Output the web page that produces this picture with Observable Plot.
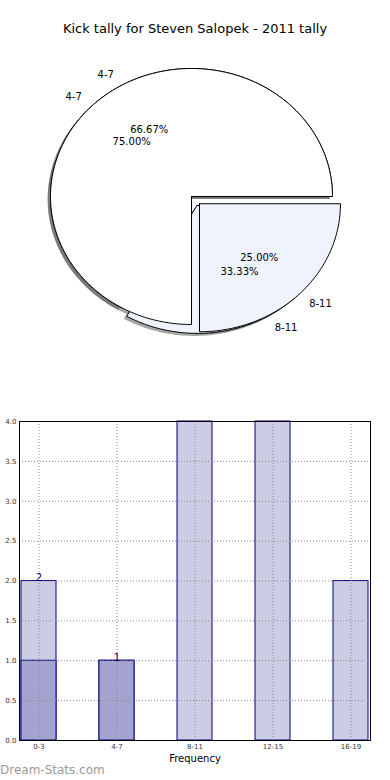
<!DOCTYPE html>
<html>
<head>
<meta charset="utf-8">
<script src="https://cdn.jsdelivr.net/npm/d3@7"></script>
<script src="https://cdn.jsdelivr.net/npm/@observablehq/plot@0.6"></script>
<style>
  html, body { margin: 0; padding: 0; background: white; }
  body { width: 390px; height: 780px; position: relative; overflow: hidden; font-family: "DejaVu Sans", sans-serif; }
  .abs { position: absolute; }
  #title { top: 21px; left: 0; width: 390px; text-align: center; font-size: 13px; color: #000; }
  #pie { top: 0; left: 0; }
  #bars { top: 410px; left: 0; }
  #wm { top: 763px; left: 0; font-size: 12px; color: #9a9a9a; }
</style>
</head>
<body>
<div id="title" class="abs">Kick tally for Steven Salopek - 2011 tally</div>
<div id="pie" class="abs"></div>
<div id="bars" class="abs"></div>
<div id="wm" class="abs">Dream-Stats.com</div>
<script>
// ---------- data ----------
const pieLabels = ["4-7", "8-11"];
const pieA = [3, 1];          // 75.00% / 25.00%
const pieB = [2, 1];          // 66.67% / 33.33%
const pieColors = ["#ffffff", "#eef3fd"];
const pieExplode = [0, 0.08];

const categories = ["0-3", "4-7", "8-11", "12-15", "16-19"];
const totalCounts = [2, 1, 4, 4, 2];
const innerCounts = [1, 1, 0, 0, 0];
const barLabels = ["2", "1", "", "", ""];
const barLabelValues = [2, 1, 0, 0, 0];
const yTicks = [0, 0.5, 1, 1.5, 2, 2.5, 3, 3.5, 4];

// ---------- pie geometry (matplotlib-like) ----------
function wedges(values, pieId) {
  const total = d3.sum(values);
  let cum = 0;
  return values.map((v, i) => {
    const t1 = cum / total * 360;
    cum += v;
    const t2 = cum / total * 360;
    const mid = (t1 + t2) / 2 * Math.PI / 180;
    const cx = pieExplode[i] * Math.cos(mid);
    const cy = pieExplode[i] * Math.sin(mid);
    const pts = [{x: cx, y: cy}];
    const n = Math.max(2, Math.ceil(t2 - t1));
    for (let k = 0; k <= n; k++) {
      const a = (t1 + (t2 - t1) * k / n) * Math.PI / 180;
      pts.push({x: cx + Math.cos(a), y: cy + Math.sin(a)});
    }
    pts.push({x: cx, y: cy});
    return {
      id: pieId + i, pts, fill: pieColors[i],
      label: pieLabels[i],
      lx: cx + 1.1 * Math.cos(mid), ly: cy + 1.1 * Math.sin(mid),
      px: cx + 0.6 * Math.cos(mid), py: cy + 0.6 * Math.sin(mid),
      pct: (v / total * 100).toFixed(2) + "%"
    };
  });
}
const wA = wedges(pieA, "A");
const wB = wedges(pieB, "B");
const allW = [...wB, ...wA];   // B below, A on top

const pieMarks = [];
// shadows
for (const w of allW) {
  pieMarks.push(Plot.line(w.pts, {
    x: d => d.x - 0.02, y: d => d.y - 0.02,
    fill: "#4d4d4d", fillOpacity: 0.5, stroke: "none"
  }));
}
// wedges
for (const w of allW) {
  pieMarks.push(Plot.line(w.pts, {
    x: "x", y: "y", fill: w.fill, stroke: "black", strokeWidth: 1, strokeLinejoin: "miter"
  }));
}
pieMarks.push(Plot.text(allW.filter(d => d.lx > 0), {
  x: "lx", y: "ly", text: "label", textAnchor: "start", fontSize: 10, fill: "black"
}));
pieMarks.push(Plot.text(allW.filter(d => d.lx <= 0), {
  x: "lx", y: "ly", text: "label", textAnchor: "end", fontSize: 10, fill: "black"
}));
pieMarks.push(Plot.text(allW, {
  x: "px", y: "py", text: "pct", textAnchor: "middle", fontSize: 10, fill: "black"
}));

const pie = Plot.plot({
  width: 390, height: 380,
  margin: 0,
  x: {domain: [-1.3546, 1.4113], axis: null},
  y: {domain: [-1.4375, 1.53125], axis: null},
  style: {fontFamily: "DejaVu Sans", background: "transparent", overflow: "visible"},
  marks: pieMarks
});
document.getElementById("pie").appendChild(pie);

// ---------- bar chart ----------
const barRows = categories.map((c, i) => ({
  cat: c, total: totalCounts[i], inner: innerCounts[i],
  label: barLabels[i], lv: barLabelValues[i]
}));

const bars = Plot.plot({
  width: 390, height: 370,
  marginTop: 11, marginBottom: 40, marginLeft: 19, marginRight: 20,
  x: {type: "band", domain: categories, paddingInner: 0.555, paddingOuter: 0, align: 0.5},
  y: {domain: [0, 4]},
  style: {fontFamily: "DejaVu Sans", background: "white", overflow: "visible"},
  marks: [
    Plot.barY(barRows.filter(d => d.total > 0), {x: "cat", y: "total", fill: "#ccccE5", stroke: "#000080", strokeWidth: 1}),
    Plot.barY(barRows.filter(d => d.inner > 0), {x: "cat", y: "inner", fill: "#a3a3d0", stroke: "#000080", strokeWidth: 1}),
    Plot.gridY({ticks: yTicks, stroke: "#8a8a8a", strokeOpacity: 1, strokeDasharray: "1,2"}),
    Plot.gridX({stroke: "#8a8a8a", strokeOpacity: 1, strokeDasharray: "1,2"}),
    Plot.frame({stroke: "black"}),
    Plot.text(barRows.filter(d => d.label !== ""), {
      x: "cat", y: "lv", text: "label", lineAnchor: "bottom", dy: 0,
      fontSize: 10, fill: "#000080"
    }),
    Plot.axisY({ticks: yTicks, tickFormat: d3.format(".1f"), tickSize: 0, tickPadding: 3, fontSize: 7, label: null, fill: "#333"}),
    Plot.axisX({tickSize: 0, tickPadding: 4, fontSize: 7, label: null, fill: "#333"}),
    Plot.text(["Frequency"], {frameAnchor: "bottom", dy: 21, fontSize: 10, fill: "black"})
  ]
});
document.getElementById("bars").appendChild(bars);
</script>
</body>
</html>
